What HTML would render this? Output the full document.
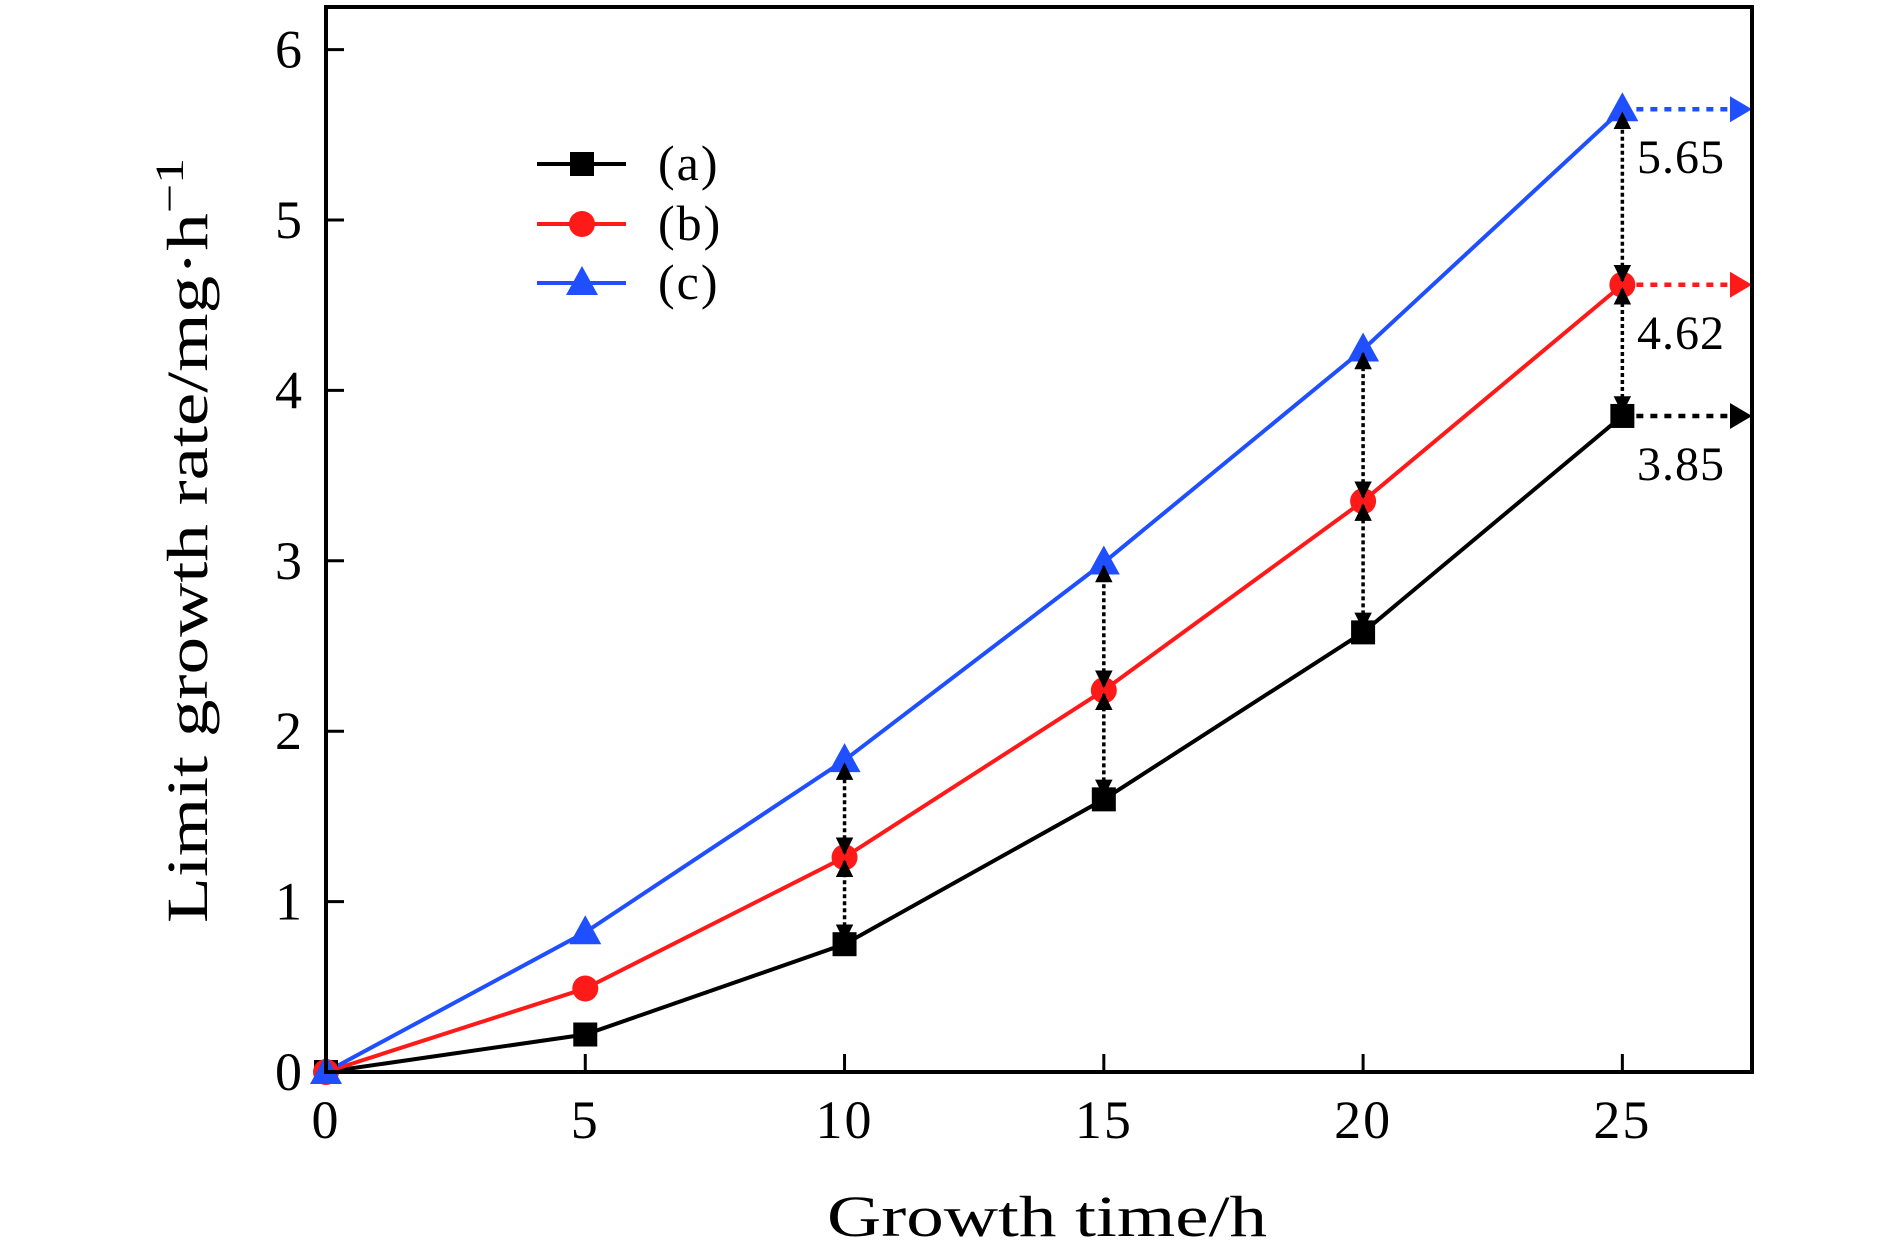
<!DOCTYPE html>
<html><head><meta charset="utf-8"><style>
html,body{margin:0;padding:0;background:#fff}
svg{display:block;font-family:"Liberation Serif",serif}
</style></head><body>
<svg id="chart" width="1890" height="1252" viewBox="0 0 1890 1252" xmlns="http://www.w3.org/2000/svg">
<defs>
<marker id="ah" viewBox="0 0 10 10" refX="9" refY="5" markerWidth="5" markerHeight="5" orient="auto-start-reverse"><path d="M0,0L10,5L0,10z" fill="#000"/></marker>
</defs>
<g id="plot"></g>
</svg>
<script>
const xs = [0,5,10,15,20,25];
const seriesA = [0,0.22,0.75,1.6,2.58,3.85];
const seriesB = [0,0.49,1.26,2.24,3.35,4.62];
const seriesC = [0,0.82,1.83,2.99,4.24,5.65];
const xTicks = [0,5,10,15,20,25];
const yTicks = [0,1,2,3,4,5,6];
const endLabels = ["3.85","4.62","5.65"];
const arrowXs = [10,15,20,25];

const L=326,R=1752,T=7,B=1072;
const X=v=>L+(v/27.5)*(R-L);
const Y=v=>B-(v/6.25)*(B-T);
const NS="http://www.w3.org/2000/svg";
const g=document.getElementById('plot');
function el(tag,attrs,parent){const e=document.createElementNS(NS,tag);for(const k in attrs)e.setAttribute(k,attrs[k]);(parent||g).appendChild(e);return e;}

xTicks.forEach(t=>{
  const l=el('line',{x1:X(t),x2:X(t),y1:B,y2:B-18,stroke:'#000','stroke-width':3});
  
  
  const tx=el('text',{x:X(t),y:1138,'font-size':54,'text-anchor':'middle','letter-spacing':2});tx.textContent=t;
  
  
});
yTicks.forEach(t=>{
  const l=el('line',{x1:L,x2:L+18,y1:Y(t),y2:Y(t),stroke:'#000','stroke-width':3});
  
  
  const tx=el('text',{x:302,y:Y(t)+18,'font-size':54,'text-anchor':'end'});tx.textContent=t;
  
  
});

const series=[{d:seriesA,c:'#000',m:'sq',n:'series-a'},{d:seriesB,c:'#ff1a1a',m:'ci',n:'series-b'},{d:seriesC,c:'#1f4fff',m:'tr',n:'series-c'}];
function marker(m,x,y,c,name){
  let e;
  if(m==='sq')e=el('rect',{x:x-12,y:y-12,width:24,height:24,fill:c});
  else if(m==='ci')e=el('circle',{cx:x,cy:y,r:13,fill:c});
  else e=el('polygon',{points:`${x},${y-17} ${x-16},${y+12} ${x+16},${y+12}`,fill:c});
  
  
}
series.forEach(s=>{
  const p=el('polyline',{points:s.d.map((v,i)=>X(xs[i])+','+Y(v)).join(' '),fill:'none',stroke:s.c,'stroke-width':4});
  
  
});
series.forEach(s=>s.d.forEach((v,i)=>marker(s.m,X(xs[i]),Y(v),s.c,s.n+'-point')));

arrowXs.forEach(xv=>{
  const i=xs.indexOf(xv);
  [[seriesA[i],seriesB[i]],[seriesB[i],seriesC[i]]].forEach(([a,b])=>{
    const ln=el('line',{x1:X(xv),x2:X(xv),y1:Y(a)-4,y2:Y(b)+4,stroke:'#000','stroke-width':3.5,'stroke-dasharray':'4 3','marker-start':'url(#ah)','marker-end':'url(#ah)'});
    
    
  });
});
const last=xs.length-1;
series.forEach((s,k)=>{
  const y=Y(s.d[last]);
  const ln=el('line',{x1:X(xs[last])+14,x2:R-20,y1:y,y2:y,stroke:s.c,'stroke-width':4.5,'stroke-dasharray':'7 7'});
  
  
  const h=el('polygon',{points:`${R-22},${y-13} ${R},${y} ${R-22},${y+13}`,fill:s.c});
  
  
  const t=el('text',{x:1637,y:y+64,'font-size':48,'letter-spacing':1});t.textContent=endLabels[k];
  
  
});

const fr=el('rect',{x:L,y:T,width:R-L,height:B-T,fill:'none',stroke:'#000','stroke-width':4});



const legY=[164,224,283],legT=['(a)','(b)','(c)'];
series.forEach((s,k)=>{
  const l=el('line',{x1:537,x2:626,y1:legY[k],y2:legY[k],stroke:s.c,'stroke-width':4});
  
  
  marker(s.m,582,legY[k],s.c,'legend-marker');
  const t=el('text',{x:658,y:legY[k]+16,'font-size':50,'letter-spacing':2});t.textContent=legT[k];
  
  
});

const xt=el('text',{x:827,y:1236,'font-size':58,textLength:440,lengthAdjust:'spacingAndGlyphs'});xt.textContent='Growth time/h';


const yt=el('text',{x:0,y:0,'font-size':58,transform:'translate(207,923) rotate(-90)',textLength:765,lengthAdjust:'spacingAndGlyphs'});
yt.innerHTML='Limit growth rate/mg·h<tspan dy="-24" font-size="40">−1</tspan>';


</script>
</body></html>
